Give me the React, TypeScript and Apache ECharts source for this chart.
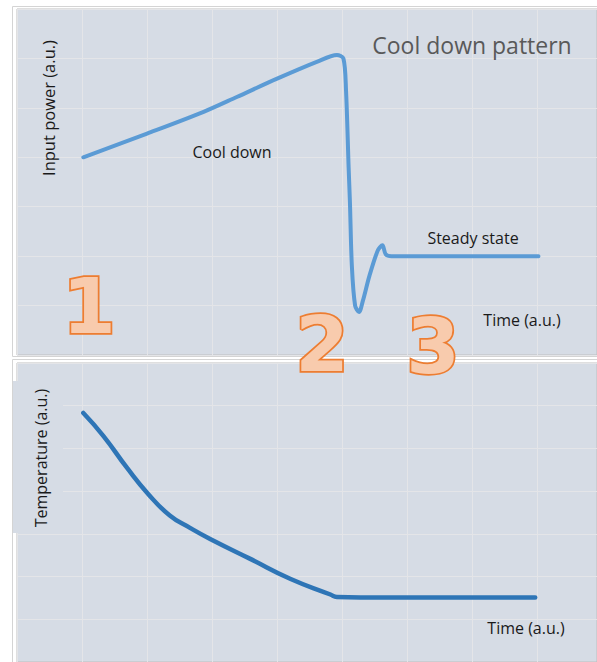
import React, { useEffect, useRef } from "react";
import * as echarts from "echarts";

// Top panel: input power vs time (a.u.)
const powerTime = [1.02, 2.0, 2.87, 3.38, 4.0, 4.61, 4.92, 5.02, 5.06, 5.1, 5.12, 5.15, 5.2, 5.26, 5.32, 5.42, 5.55, 5.62, 5.67, 5.76, 8.02];
const powerValue = [4.0, 4.48, 4.92, 5.22, 5.59, 5.93, 6.07, 6.0, 5.36, 3.8, 3.1, 1.8, 1.0, 0.87, 1.1, 1.6, 2.12, 2.22, 2.04, 2.0, 2.0];

// Bottom panel: temperature vs time (a.u.)
const tempTime = [1.02, 1.33, 1.69, 2.02, 2.35, 2.66, 2.97, 3.58, 4.2, 4.82, 4.92, 5.28, 7.97];
const tempValue = [5.83, 5.29, 4.55, 3.93, 3.43, 3.14, 2.88, 2.42, 1.95, 1.58, 1.52, 1.51, 1.51];

const phaseLabels = ["1", "2", "3"];
const axisTitles = { power: "Input power (a.u.)", temp: "Temperature (a.u.)", time: "Time (a.u.)" };
const annotations = { title: "Cool down pattern", coolDown: "Cool down", steady: "Steady state" };

const FONT = '"Open Sans", "Noto Sans", sans-serif';
const PLOT_BG = "#D6DCE5";
const GRID_LINE = "#E4E5E8";

export default function App() {
  const ref = useRef<HTMLDivElement>(null);

  useEffect(() => {
    document.body.style.margin = "0";
    if (!ref.current) return;
    const chart = echarts.init(ref.current, undefined, { renderer: "svg" });

    const hiddenAxis = (gridIndex: number, max: number) => ({
      gridIndex,
      type: "value" as const,
      min: 0,
      max,
      interval: 1,
      axisLine: { show: false },
      axisTick: { show: false },
      axisLabel: { show: false },
      splitLine: { show: true, lineStyle: { color: GRID_LINE, width: 1 } },
    });

    const text = (t: string, x: number, y: number, size: number, color: string, extra: any = {}) => ({
      type: "text",
      x,
      y,
      z: 11,
      ...extra,
      style: {
        text: t,
        font: `${size}px ${FONT}`,
        fill: color,
        textAlign: "center",
        textVerticalAlign: "middle",
      },
    });

    const digit = (t: string, x: number, y: number) => ({
      type: "text",
      x,
      y,
      z: 20,
      style: {
        text: t,
        font: `bold 77px "DejaVu Sans", ${FONT}`,
        fill: "#F8CBAD",
        stroke: "#ED7D31",
        lineWidth: 3.5,
        textAlign: "center",
        textVerticalAlign: "middle",
      },
    });

    chart.setOption({
      animation: false,
      backgroundColor: "#ffffff",
      grid: [
        { left: 17, top: 9, width: 580, height: 346, show: true, backgroundColor: PLOT_BG, borderColor: "#BFBFBF", borderWidth: 1 },
        { left: 17, top: 363, width: 580, height: 301, show: true, backgroundColor: PLOT_BG, borderColor: "#BFBFBF", borderWidth: 1 },
      ],
      xAxis: [hiddenAxis(0, 8.92), hiddenAxis(1, 8.92)],
      yAxis: [hiddenAxis(0, 7), hiddenAxis(1, 7)],
      series: [
        {
          type: "line",
          xAxisIndex: 0,
          yAxisIndex: 0,
          data: powerTime.map((t, i) => [t, powerValue[i]]),
          showSymbol: false,
          smooth: 0.3,
          silent: true,
          z: 5,
          lineStyle: { color: "#5B9BD5", width: 4, cap: "round", join: "round" },
        },
        {
          type: "line",
          xAxisIndex: 1,
          yAxisIndex: 1,
          data: tempTime.map((t, i) => [t, tempValue[i]]),
          showSymbol: false,
          smooth: 0.5,
          silent: true,
          z: 5,
          lineStyle: { color: "#2E75B6", width: 4.5, cap: "round", join: "round" },
        },
      ],
      graphic: [
        { type: "rect", z: 1, shape: { x: 12.5, y: 6.5, width: 600, height: 350 }, style: { fill: "none", stroke: "#D4D4D4", lineWidth: 1 } },
        { type: "rect", z: 1, shape: { x: 12.5, y: 359.5, width: 600, height: 320 }, style: { fill: "none", stroke: "#D4D4D4", lineWidth: 1 } },
        { type: "rect", z: 10, shape: { x: 13, y: 381, width: 50, height: 152 }, style: { fill: PLOT_BG } },
        text(axisTitles.power, 48, 108, 16.5, "#1a1a1a", { rotation: Math.PI / 2 }),
        text(axisTitles.temp, 41, 458, 16, "#1a1a1a", { rotation: Math.PI / 2 }),
        text(annotations.title, 472, 45, 23, "#595959"),
        text(annotations.coolDown, 232, 152, 16, "#1a1a1a"),
        text(annotations.steady, 473, 238, 16, "#1a1a1a"),
        text(axisTitles.time, 522, 320, 16, "#1a1a1a"),
        text(axisTitles.time, 526, 628, 16, "#1a1a1a"),
        digit(phaseLabels[0], 89, 306),
        digit(phaseLabels[1], 322, 344),
        digit(phaseLabels[2], 433, 346),
      ],
    });

    return () => chart.dispose();
  }, []);

  return <div ref={ref} style={{ width: 597, height: 662 }} />;
}
